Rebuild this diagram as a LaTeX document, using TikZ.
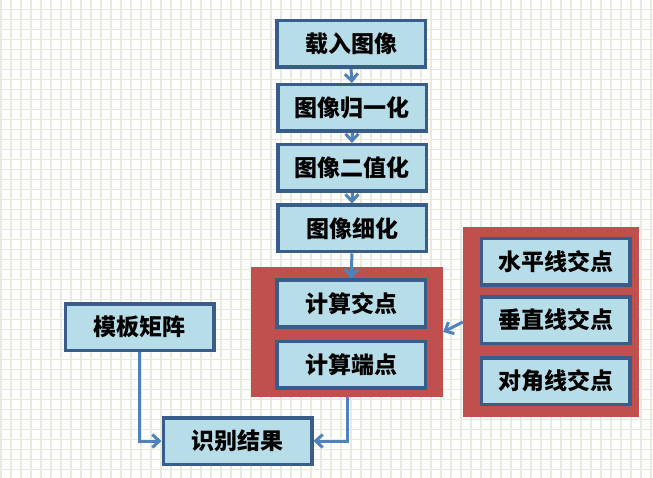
\documentclass[tikz,border=0pt]{standalone}
\usepackage{fontspec}
\usepackage{tikz}
\usetikzlibrary{arrows.meta}
\newfontfamily\cjk{Noto Sans CJK SC}
\definecolor{boxfill}{HTML}{B7DDE8}
\definecolor{boxline}{HTML}{385D8A}
\definecolor{grpred}{HTML}{C0504D}
\definecolor{arrowblue}{HTML}{4F81BD}
\definecolor{gridline}{HTML}{E9E9DE}

\begin{document}
\begin{tikzpicture}[x=1pt,y=-1pt]
            \tikzstyle{box}=[rectangle,draw=boxline,fill=boxfill,line width=3.5pt,minimum width=148.5pt,minimum height=46.5pt,inner sep=0pt,font=\cjk\bfseries\fontsize{23}{23}\selectfont]
            \tikzstyle{group}=[rectangle,fill=grpred,inner sep=0pt]
            \tikzstyle{link}=[draw=arrowblue,line width=3pt,-{Straight Barb[length=7pt,width=13pt]}]
                    \useasboundingbox (0,0) rectangle (653,478);
                    \fill[white] (0,0) rectangle (653,478);
                \foreach \x in {1,11,...,651}
                    \draw[gridline,line width=1.2pt] (\x,0) -- (\x,478);
                \foreach \y in {9.5,19.5,...,469.5}
                    \draw[gridline,line width=1.2pt] (0,\y) -- (653,\y);

                    \node[group,minimum width=192pt,minimum height=130pt] (G-0) at (347,332){};
                    \node[group,minimum width=176pt,minimum height=190pt] (G-1) at (551,322){};

                    \node[box] (V-0) at (351, 44){载入图像};
                    \node[box] (V-1) at (352, 108){图像归一化};
                    \node[box] (V-2) at (352, 168){图像二值化};
                    \node[box] (V-3) at (352, 228.5){图像细化};

                    \node[box] (V-4) at (351, 303.5){计算交点};
                    \node[box] (V-5) at (351, 364.5){计算端点};

                    \node[box] (V-6) at (139.5, 327){模板矩阵};
                    \node[box] (V-7) at (237.5, 441){识别结果};

                    \node[box] (V-8) at (555.5, 262){水平线交点};
                    \node[box] (V-9) at (555.5, 320){垂直线交点};
                    \node[box] (V-10) at (555.5, 381){对角线交点};

                \foreach \from/\to in {0/1, 1/2, 2/3, 3/4}
                    \draw[link] (V-\from.south) -- (V-\to.north);
                    \draw[link] (V-6.south) |- (V-7.west);
                    \draw[link] (G-0.south) |- (V-7.east);
                    \draw[link] (G-1.west) -- (G-0.east);
        \end{tikzpicture}
\end{document}
